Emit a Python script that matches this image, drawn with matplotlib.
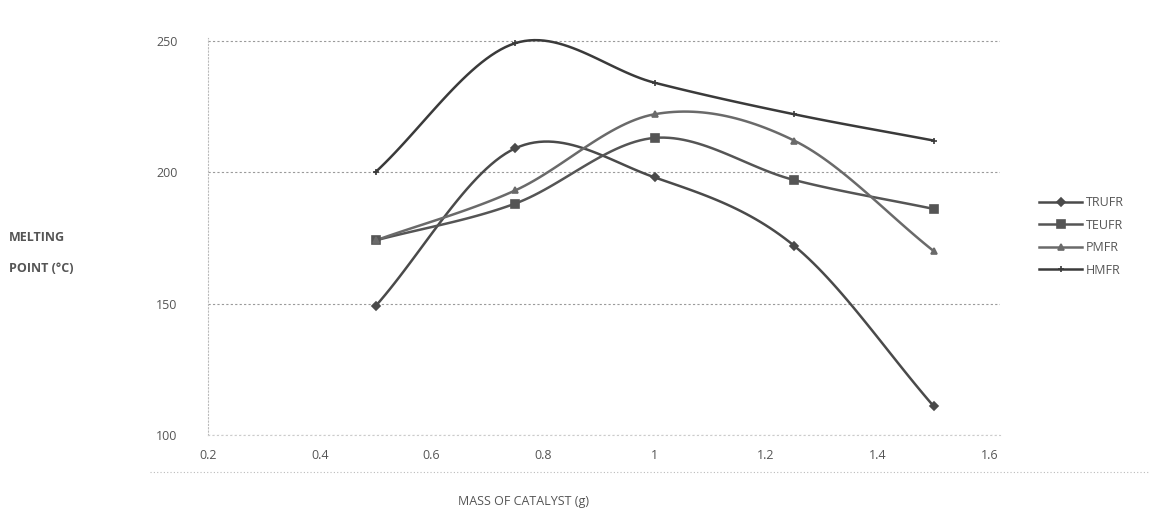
import numpy as np
import matplotlib
matplotlib.use("Agg")
import matplotlib.pyplot as plt

# mass of catalyst (g)
mass = [0.5, 0.75, 1.0, 1.25, 1.5]

# melting point (deg C) for each resin
trufr = [149, 209, 198, 172, 111]
teufr = [174, 188, 213, 197, 186]
pmfr = [174, 193, 222, 212, 170]
hmfr = [200, 249, 234, 222, 212]

series = [
    ("TRUFR", trufr, "D", "#4a4a4a", 4),
    ("TEUFR", teufr, "s", "#555555", 6),
    ("PMFR", pmfr, "^", "#6a6a6a", 5),
    ("HMFR", hmfr, "+", "#3a3a3a", 5),
]


def smooth(x, y, n=30):
    # catmull-rom style smoothing like excel's "smoothed line"
    x = np.asarray(x, float)
    y = np.asarray(y, float)
    px = np.concatenate([[2 * x[0] - x[1]], x, [2 * x[-1] - x[-2]]])
    py = np.concatenate([[2 * y[0] - y[1]], y, [2 * y[-1] - y[-2]]])
    xs, ys = [], []
    t = np.linspace(0, 1, n)
    for i in range(1, len(px) - 2):
        for p, out in ((px, xs), (py, ys)):
            p0, p1, p2, p3 = p[i - 1], p[i], p[i + 1], p[i + 2]
            c = 0.5 * ((2 * p1) + (-p0 + p2) * t
                       + (2 * p0 - 5 * p1 + 4 * p2 - p3) * t ** 2
                       + (-p0 + 3 * p1 - 3 * p2 + p3) * t ** 3)
            out.extend(c)
    return np.array(xs), np.array(ys)


plt.rcParams['font.family'] = ['Open Sans', 'DejaVu Sans']

fig = plt.figure(figsize=(11.5, 5.22), dpi=100)
ax = fig.add_axes([0.181, 0.1667, 0.689, 0.7605])

for name, vals, mk, col, ms in series:
    sx, sy = smooth(mass, vals)
    ax.plot(sx, sy, color=col, lw=1.8, zorder=3)
    ax.plot(mass, vals, linestyle="none", marker=mk, ms=ms, color=col,
            mew=1.2, zorder=4)
    # proxy for legend
    ax.plot([], [], color=col, lw=1.8, marker=mk, ms=ms, mew=1.2, label=name)

ax.set_xlim(0.2, 1.62)
ax.set_ylim(100, 251)
ax.set_xticks([0.2, 0.4, 0.6, 0.8, 1.0, 1.2, 1.4, 1.6])
ax.set_xticklabels(["0.2", "0.4", "0.6", "0.8", "1", "1.2", "1.4", "1.6"])
ax.set_yticks([100, 150, 200, 250])

ax.yaxis.grid(True, color="#9a9a9a", linestyle=(0, (2, 2)), lw=0.8)
ax.set_axisbelow(True)
for s in ["top", "right"]:
    ax.spines[s].set_visible(False)
ax.spines["left"].set_color("#bbbbbb")
ax.spines["left"].set_linestyle((0, (1, 2)))
ax.spines["bottom"].set_color("#cccccc")
ax.spines["bottom"].set_linestyle((0, (1, 3)))
ax.tick_params(length=0, labelsize=9, labelcolor="#555555")
ax.tick_params(axis="x", pad=10)
ax.tick_params(axis="y", pad=22)

fig.text(0.008, 0.545, "MELTING", fontsize=9, color="#555555",
         fontweight="bold", va="center")
fig.text(0.008, 0.486, "POINT (\u00b0C)", fontsize=9, color="#555555",
         fontweight="bold", va="center")
fig.text(0.455, 0.04, "MASS OF CATALYST (g)", fontsize=9, color="#555555",
         ha="center", va="center")

# chart area bottom border
fig.add_artist(plt.Line2D([0.13, 1.0], [0.095, 0.095], color="#bbbbbb",
                          lw=0.8, linestyle=(0, (1, 2))))

ax.legend(loc="center left", bbox_to_anchor=(1.035, 0.5), frameon=False,
          fontsize=9, labelcolor="#555555", handlelength=3.4,
          handletextpad=0.3, labelspacing=0.75)

fig.savefig("out.png", dpi=100, facecolor="white")
